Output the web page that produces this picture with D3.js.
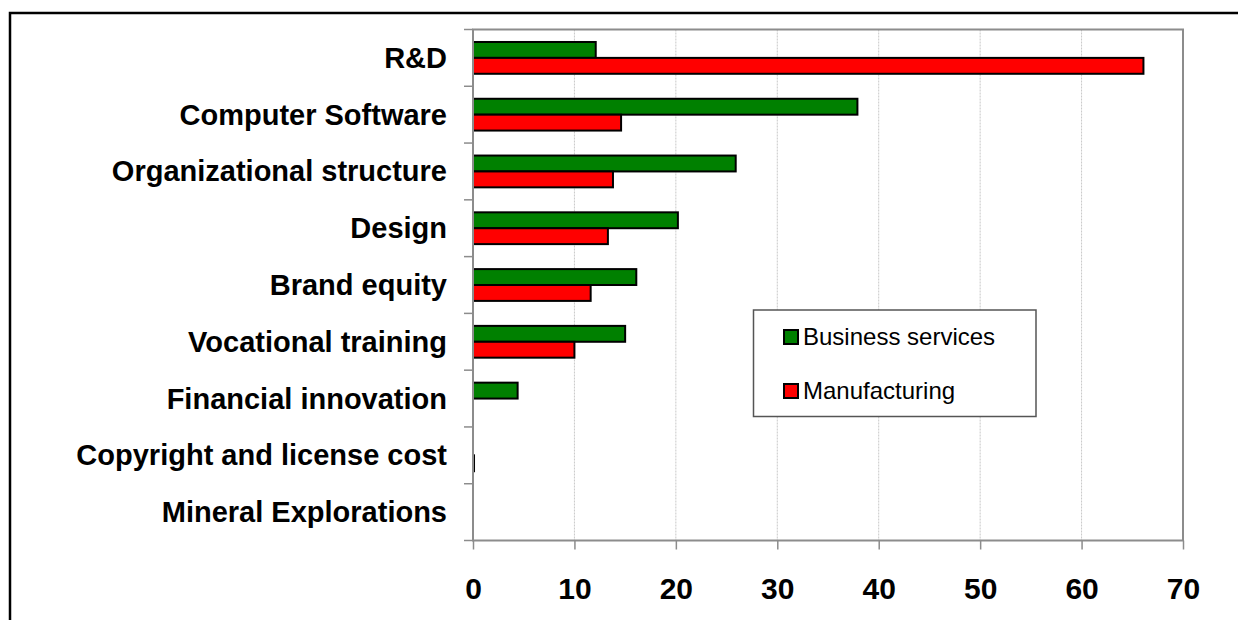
<!DOCTYPE html>
<html>
<head>
<meta charset="utf-8">
<script src="https://cdn.jsdelivr.net/npm/d3@7"></script>
<style>
  body { margin: 0; background: #fff; }
  svg { display: block; font-family: Arial, "Liberation Sans", sans-serif; }
</style>
</head>
<body>
<script>
// data
let categories = ["R&D", "Computer Software", "Organizational structure", "Design",
  "Brand equity", "Vocational training", "Financial innovation",
  "Copyright and license cost", "Mineral Explorations"];
let seriesNames = ["Business services", "Manufacturing"];
let businessServices = [12.1, 37.9, 25.9, 20.2, 16.1, 15.0, 4.4, 0, 0];
let manufacturing = [66.1, 14.6, 13.8, 13.3, 11.6, 10.0, 0, 0.1, 0];
let xTicks = [0, 10, 20, 30, 40, 50, 60, 70];
let colors = ["#008000", "#ff0000"];

let W = 1238, H = 620;
let plot = {left: 473, top: 29.5, right: 1183, bottom: 540.5};

let svg = d3.select("body").append("svg")
    .attr("width", W)
    .attr("height", H);

// outer frame (left + top edges only visible)
svg.append("rect")
    .attr("x", 10).attr("y", 13)
    .attr("width", W + 20).attr("height", H + 20)
    .attr("fill", "none")
    .attr("stroke", "#000")
    .attr("stroke-width", 2.5);

let x = d3.scaleLinear().domain([0, 70]).range([plot.left, plot.right]);
let y0 = d3.scaleBand().domain(categories)
    .range([plot.top, plot.bottom])
    .paddingInner(0.44).paddingOuter(0.22);
let y1 = d3.scaleBand().domain(seriesNames).range([0, y0.bandwidth()]);

// gridlines
svg.append("g").selectAll("line")
    .data(xTicks.filter(d => d > 0 && d < 70))
    .enter().append("line")
    .attr("x1", d => x(d)).attr("x2", d => x(d))
    .attr("y1", plot.top).attr("y2", plot.bottom)
    .attr("stroke", "#c8c8c8")
    .attr("stroke-width", 1)
    .attr("stroke-dasharray", "2,1");

// bars
let rows = categories.map((c, i) => ({cat: c, vals: [businessServices[i], manufacturing[i]]}));
let groups = svg.append("g").selectAll("g")
    .data(rows)
    .enter().append("g")
    .attr("transform", d => "translate(0," + y0(d.cat) + ")");

groups.selectAll("rect")
    .data(d => d.vals.map((v, j) => ({name: seriesNames[j], v: v, j: j})).filter(e => e.v > 0))
    .enter().append("rect")
    .attr("x", x(0))
    .attr("y", d => y1(d.name))
    .attr("width", d => x(d.v) - x(0))
    .attr("height", y1.bandwidth())
    .attr("fill", d => colors[d.j])
    .attr("stroke", "#000")
    .attr("stroke-width", 2);

// plot frame
svg.append("rect")
    .attr("x", plot.left).attr("y", plot.top)
    .attr("width", plot.right - plot.left)
    .attr("height", plot.bottom - plot.top)
    .attr("fill", "none")
    .attr("stroke", "#8c8c8c")
    .attr("stroke-width", 2);

// left ticks at category boundaries
let bounds = d3.range(categories.length + 1).map(i => plot.top + i * (plot.bottom - plot.top) / categories.length);
svg.append("g").selectAll("line")
    .data(bounds)
    .enter().append("line")
    .attr("x1", plot.left - 9).attr("x2", plot.left)
    .attr("y1", d => d).attr("y2", d => d)
    .attr("stroke", "#8c8c8c")
    .attr("stroke-width", 1.5);

// category labels
svg.append("g").selectAll("text")
    .data(categories)
    .enter().append("text")
    .attr("x", 447)
    .attr("y", d => y0(d) + y0.bandwidth() / 2 + 10)
    .attr("text-anchor", "end")
    .attr("font-size", 29)
    .attr("font-weight", "bold")
    .attr("fill", "#000")
    .text(d => d);

// bottom axis
let xAxis = svg.append("g")
    .attr("transform", "translate(0," + plot.bottom + ")")
    .call(d3.axisBottom(x).tickValues(xTicks).tickSize(9).tickPadding(28).tickFormat(d3.format("d")));
xAxis.select(".domain").remove();
xAxis.selectAll(".tick line").attr("stroke", "#8c8c8c").attr("stroke-width", 1.5);
xAxis.selectAll(".tick text")
    .attr("font-size", 30)
    .attr("font-weight", "bold")
    .attr("font-family", "Arial, 'Liberation Sans', sans-serif")
    .attr("fill", "#000");

// legend
let legend = svg.append("g");
legend.append("rect")
    .attr("x", 753.5).attr("y", 310)
    .attr("width", 282.5).attr("height", 106.5)
    .attr("fill", "#fff")
    .attr("stroke", "#555")
    .attr("stroke-width", 1.5);

let items = legend.selectAll("g")
    .data(seriesNames)
    .enter().append("g")
    .attr("transform", (d, i) => "translate(784," + (330 + i * 54) + ")");
items.append("rect")
    .attr("width", 14).attr("height", 14)
    .attr("fill", (d, i) => colors[i])
    .attr("stroke", "#000")
    .attr("stroke-width", 2);
items.append("text")
    .attr("x", 19).attr("y", 15)
    .attr("font-size", 24)
    .attr("fill", "#000")
    .text(d => d);
</script>
</body>
</html>
